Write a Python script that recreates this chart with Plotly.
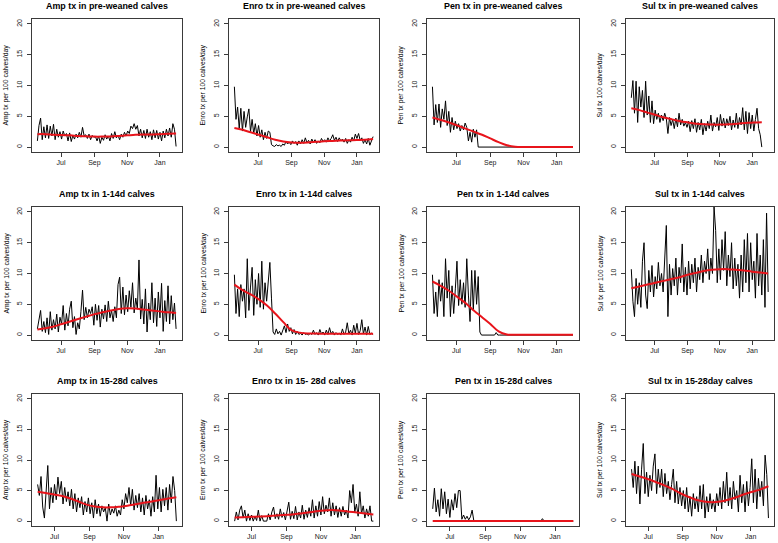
import pandas as pd
import plotly.graph_objects as go

# ---------------- data (3-day sampling) ----------------
START_ROW12 = "2016-05-18"
START_ROW3 = "2016-06-01"
STEP_DAYS = 3

tick_dates = ["2016-07-01", "2016-09-01", "2016-11-01", "2017-01-01"]
tick_labels = ["Jul", "Sep", "Nov", "Jan"]
y_ticks = [0, 5, 10, 15, 20]

amp_pre = [1.0, 3.5, 4.7, 1.2, 3.3, 1.5, 3.6, 1.4, 3.4, 1.8,
           3.7, 1.2, 2.9, 1.6, 2.5, 1.3, 2.6, 1.8, 2.2, 1.0,
           2.3, 0.9, 1.9, 1.3, 2.1, 1.5, 2.4, 1.6, 3.2, 1.8,
           2.0, 1.4, 2.1, 1.2, 1.9, 1.6, 1.7, 1.0, 1.8, 0.6,
           1.6, 1.1, 2.0, 1.3, 1.8, 1.0, 2.2, 1.4, 2.5, 1.5,
           1.9, 1.2, 2.1, 1.6, 2.4, 1.8, 2.6, 2.2, 3.4, 3.0,
           3.8, 2.9, 3.5, 1.8, 2.9, 1.5, 2.7, 1.4, 2.9, 1.6,
           2.5, 1.2, 2.8, 1.5, 2.7, 1.3, 2.4, 1.0, 2.6, 1.5,
           2.9, 1.8, 3.1, 1.6, 3.8, 2.9, 0.1]
amp_pre_fit = [2.1, 2.1, 2.0, 1.95, 1.9, 1.8, 1.75, 1.7, 1.7, 1.72,
               1.8, 1.9, 2.0, 2.05, 2.05, 2.1, 2.15, 2.2]

enro_pre = [9.8, 4.5, 6.5, 3.0, 6.3, 2.6, 5.8, 3.2, 4.9, 6.2,
            2.5, 4.5, 2.2, 3.8, 1.8, 3.5, 1.6, 2.8, 1.2, 2.4,
            1.4, 2.6, 2.4, 0.4, 0.2, 0.1, 0.4, 0.2, 0.3, 0.1,
            0.5, 0.3, 0.9, 0.5, 0.8, 0.4, 1.0, 0.6, 0.9, 0.3,
            1.0, 0.5, 1.2, 0.6, 1.5, 0.7, 1.1, 0.5, 1.3, 0.8,
            1.2, 0.6, 1.0, 0.7, 1.4, 0.9, 1.2, 0.8, 1.5, 1.0,
            1.4, 2.0, 1.1, 1.6, 0.9, 1.5, 1.0, 1.3, 0.8, 1.4,
            0.6, 1.2, 0.8, 1.6, 1.0, 2.1, 1.4, 2.2, 1.1, 1.5,
            0.6, 1.2, 0.5, 1.4, 0.3, 1.0, 1.7]
enro_pre_fit = [3.1, 2.8, 2.4, 2.0, 1.6, 1.2, 0.9, 0.75, 0.7, 0.75,
                0.85, 0.95, 1.0, 1.05, 1.1, 1.15, 1.2, 1.3]

pen_pre = [9.8, 3.6, 6.9, 4.0, 7.0, 3.2, 6.2, 4.5, 7.5, 3.5,
           5.8, 2.4, 4.8, 2.8, 4.2, 3.0, 3.8, 2.6, 3.5, 2.8,
           3.9, 3.2, 1.0, 2.4, 0.8, 2.9, 1.6, 2.8, 0.0, 0.0,
           0.0, 0.0, 0.0, 0.0, 0.0, 0.0, 0.0, 0.0, 0.0, 0.0,
           0.0, 0.0, 0.0, 0.0, 0.0, 0.0, 0.0, 0.0, 0.0, 0.0,
           0.0, 0.0, 0.0, 0.0, 0.0, 0.0, 0.0, 0.0, 0.0, 0.0,
           0.0, 0.0, 0.0, 0.0, 0.0, 0.0, 0.0, 0.0, 0.0, 0.0,
           0.0, 0.0, 0.0, 0.0, 0.0, 0.0, 0.0, 0.0, 0.0, 0.0,
           0.0, 0.0, 0.0, 0.0, 0.0, 0.0, 0.0]
pen_pre_fit = [4.8, 4.4, 4.0, 3.5, 3.0, 2.5, 2.0, 1.4, 0.8, 0.3,
               0.05, 0.0, 0.0, 0.0, 0.0, 0.0, 0.0, 0.0]

sul_pre = [8.0, 10.8, 5.5, 10.7, 4.0, 9.8, 6.5, 9.2, 4.8, 10.7,
           5.2, 8.3, 4.0, 7.5, 3.8, 6.0, 4.5, 5.5, 4.0, 5.2,
           4.3, 5.5, 4.6, 2.2, 4.8, 3.5, 4.5, 3.0, 4.7, 3.3,
           5.5, 3.6, 4.5, 3.4, 4.0, 3.2, 4.2, 2.5, 4.3, 3.0,
           4.6, 2.4, 4.0, 2.8, 4.5, 2.0, 3.8, 2.6, 4.2, 3.0,
           5.2, 2.6, 4.0, 3.3, 4.8, 2.7, 5.3, 3.4, 4.7, 3.1,
           4.6, 3.5, 5.0, 2.8, 4.4, 3.2, 5.5, 3.0, 4.8, 3.6,
           6.4, 2.8, 5.8, 2.2, 5.6, 3.0, 5.2, 2.6, 4.5, 6.3,
           3.0, 2.0, 0.0]
sul_pre_fit = [6.3, 6.0, 5.6, 5.2, 4.8, 4.5, 4.2, 4.0, 3.8, 3.7,
               3.65, 3.65, 3.7, 3.8, 3.9, 4.0, 4.05]

amp_114 = [1.0, 2.5, 4.0, 0.6, 2.2, 0.4, 2.8, 0.1, 3.8, 0.8,
           2.5, 1.0, 3.4, 0.5, 2.9, 1.8, 4.8, 0.8, 3.5, 1.5,
           4.2, 5.5, 1.2, 3.0, 0.1, 2.0, 1.0, 3.8, 7.3, 2.5,
           4.5, 2.8, 4.2, 3.5, 4.6, 1.6, 5.0, 2.4, 4.8, 1.3,
           4.2, 2.6, 4.9, 2.2, 5.5, 2.8, 4.0, 2.2, 4.6, 2.8,
           8.2, 9.4, 3.5, 7.8, 3.3, 6.5, 3.8, 7.2, 4.5, 8.5,
           3.6, 6.0, 4.2, 12.2, 2.6, 5.8, 1.8, 7.5, 0.5, 5.2,
           2.5, 8.5, 2.0, 6.0, 1.4, 7.0, 2.8, 8.4, 0.6, 5.6,
           2.2, 8.0, 1.8, 6.4, 2.5, 5.2, 1.0]
amp_114_fit = [0.9, 1.1, 1.4, 1.8, 2.2, 2.6, 3.0, 3.4, 3.7, 4.0,
               4.25, 4.35, 4.3, 4.15, 4.0, 3.85, 3.7, 3.6]

enro_114 = [9.8, 3.5, 7.5, 3.0, 8.2, 5.5, 7.5, 2.8, 12.4, 4.0,
            7.8, 11.0, 3.2, 9.0, 5.0, 10.0, 4.5, 12.0, 4.2, 8.5,
            5.5, 9.5, 11.8, 6.0, 0.5, 0.1, 1.0, 0.2, 0.6, 0.0,
            0.8, 1.5, 0.4, 1.8, 0.6, 1.2, 0.2, 0.9, 0.1, 0.6,
            0.1, 0.3, 0.0, 0.4, 0.1, 0.2, 0.0, 0.3, 0.1, 0.8,
            0.1, 0.4, 0.0, 0.9, 0.2, 0.5, 0.0, 0.8, 0.1, 1.2,
            0.2, 0.6, 0.0, 0.4, 0.1, 0.3, 0.0, 1.0, 0.1, 0.5,
            2.0, 0.2, 0.8, 0.0, 1.6, 0.3, 1.9, 0.1, 0.7, 2.5,
            0.2, 1.3, 0.0, 1.4, 0.1, 0.3, 0.1]
enro_114_fit = [8.2, 7.3, 6.6, 5.8, 4.8, 3.5, 2.1, 0.8, 0.4, 0.25,
                0.25, 0.2, 0.2, 0.2, 0.2, 0.2, 0.2, 0.2]

pen_114 = [9.8, 3.5, 7.0, 3.0, 9.0, 5.5, 8.5, 3.0, 12.4, 6.0,
           10.5, 3.0, 8.0, 3.5, 7.5, 12.0, 4.8, 9.0, 5.0, 8.5,
           4.5, 12.4, 6.5, 2.2, 10.5, 4.0, 10.5, 5.0, 9.5, 0.5,
           0.0, 0.0, 0.0, 0.0, 0.0, 0.0, 0.0, 0.0, 0.0, 0.4,
           0.0, 0.0, 0.0, 0.0, 0.0, 0.0, 0.0, 0.0, 0.0, 0.0,
           0.0, 0.0, 0.0, 0.0, 0.0, 0.0, 0.0, 0.0, 0.0, 0.0,
           0.0, 0.0, 0.0, 0.0, 0.0, 0.0, 0.0, 0.0, 0.0, 0.0,
           0.0, 0.0, 0.0, 0.0, 0.0, 0.0, 0.0, 0.0, 0.0, 0.0,
           0.0, 0.0, 0.0, 0.0, 0.0, 0.0, 0.0]
pen_114_fit = [8.7, 8.0, 7.2, 6.2, 5.2, 4.0, 2.9, 1.8, 0.6, 0.1,
               0.05, 0.05, 0.05, 0.05, 0.05, 0.05, 0.05, 0.05]

sul_114 = [10.7, 5.5, 3.0, 9.2, 5.0, 8.5, 4.5, 12.0, 15.0, 6.5,
           4.3, 10.5, 7.0, 11.3, 6.2, 9.5, 7.5, 11.8, 8.0, 10.0,
           7.0, 12.0, 17.8, 3.0, 11.5, 6.5, 10.8, 8.0, 12.5, 6.5,
           11.0, 8.5, 14.8, 7.0, 11.0, 6.5, 12.0, 7.5, 11.5, 8.5,
           12.5, 7.0, 11.0, 9.0, 13.0, 8.5, 12.0, 10.0, 14.0, 9.0,
           12.5, 10.0, 20.8, 17.0, 8.5, 14.0, 9.0, 15.5, 10.5, 16.8,
           8.0, 13.0, 9.5, 15.0, 7.5, 12.5, 8.0, 11.5, 6.0, 13.0,
           7.0, 15.5, 8.5, 16.5, 7.0, 15.0, 9.0, 12.0, 6.0, 16.5,
           8.0, 13.0, 6.5, 15.5, 4.5, 19.8, 7.0]
sul_114_fit = [7.6, 7.9, 8.2, 8.5, 8.8, 9.1, 9.4, 9.8, 10.1, 10.4,
               10.6, 10.7, 10.7, 10.6, 10.5, 10.3, 10.15, 10.0]

amp_1528 = [6.0, 4.2, 7.3, 2.3, 0.5, 5.5, 9.1, 2.0, 5.5, 3.0,
            6.0, 3.5, 7.2, 4.5, 6.5, 2.8, 5.5, 3.2, 4.8, 2.5,
            5.2, 2.0, 4.5, 1.5, 3.8, 2.2, 4.0, 1.0, 3.2, 1.5,
            3.8, 1.2, 3.0, 0.5, 3.5, 1.2, 2.8, 0.8, 2.5, 1.5,
            2.2, 0.0, 2.8, 1.0, 2.0, 1.3, 2.5, 0.8, 1.8, 1.0,
            3.5, 2.0, 4.5, 3.0, 5.5, 2.5, 5.2, 1.8, 4.2, 2.2,
            4.5, 1.5, 3.8, 1.0, 4.2, 2.0, 3.5, 0.8, 4.0, 1.5,
            7.5, 2.0, 5.5, 1.5, 5.2, 2.5, 5.5, 1.8, 6.0, 3.0,
            7.3, 5.0, 0.0]
amp_1528_fit = [4.8, 4.6, 4.35, 4.1, 3.7, 3.2, 2.7, 2.4, 2.25, 2.25,
                2.35, 2.5, 2.75, 3.0, 3.2, 3.45, 3.7, 3.9]

enro_1528 = [0.0, 1.5, 0.2, 1.8, 2.5, 0.5, 1.8, 0.0, 1.2, 0.1,
             1.0, 0.0, 0.8, 0.1, 1.8, 0.0, 0.9, 0.0, 0.0, 0.0,
             1.2, 0.2, 1.5, 2.3, 0.4, 1.2, 0.3, 2.0, 0.6, 1.4,
             0.2, 1.8, 3.1, 0.3, 1.6, 0.4, 2.4, 0.2, 1.5, 0.5,
             2.6, 0.3, 1.8, 0.6, 2.2, 0.8, 3.5, 0.5, 2.5, 0.8,
             3.2, 1.0, 4.0, 1.2, 2.6, 1.5, 3.8, 0.8, 3.0, 1.0,
             2.5, 0.6, 2.2, 0.8, 2.4, 1.0, 1.8, 0.5, 5.0, 3.0,
             6.0, 1.5, 2.8, 0.8, 4.8, 1.2, 2.5, 0.5, 2.0, 0.8,
             2.5, 0.0, 0.0]
enro_1528_fit = [0.6, 0.65, 0.7, 0.75, 0.8, 0.9, 1.0, 1.1, 1.25, 1.4,
                 1.6, 1.75, 1.8, 1.7, 1.55, 1.4, 1.25, 1.1]

pen_1528 = [2.0, 5.4, 1.5, 3.5, 0.8, 5.3, 2.0, 4.8, 1.2, 3.6,
            0.6, 3.5, 1.8, 4.5, 2.2, 5.0, 5.0, 0.3, 1.0, 0.3,
            0.8, 0.2, 0.7, 1.8, 0.0, 0.0, 0.0, 0.0, 0.0, 0.0,
            0.0, 0.0, 0.0, 0.0, 0.0, 0.0, 0.0, 0.0, 0.0, 0.0,
            0.0, 0.0, 0.0, 0.0, 0.0, 0.0, 0.0, 0.0, 0.0, 0.0,
            0.0, 0.0, 0.0, 0.0, 0.0, 0.0, 0.0, 0.0, 0.0, 0.0,
            0.0, 0.0, 0.0, 0.0, 0.4, 0.0, 0.0, 0.0, 0.0, 0.0,
            0.0, 0.0, 0.0, 0.0, 0.0, 0.0, 0.0, 0.0, 0.0, 0.0,
            0.0, 0.0, 0.0]
pen_1528_fit = [0.0, 0.0]

sul_1528 = [8.5, 5.5, 9.8, 4.5, 9.0, 2.8, 8.5, 12.7, 4.5, 8.0,
            4.0, 7.5, 5.0, 9.0, 11.0, 4.5, 8.5, 5.5, 8.5, 4.0,
            7.8, 4.5, 6.5, 3.5, 6.0, 8.5, 3.0, 6.5, 2.8, 5.5,
            2.5, 5.0, 2.0, 5.5, 1.5, 4.0, 0.8, 4.5, 2.0, 4.0,
            1.5, 5.8, 2.0, 6.0, 0.5, 4.0, 1.5, 4.5, 2.0, 3.5,
            1.5, 4.5, 2.5, 5.5, 2.0, 6.5, 3.0, 8.0, 2.5, 5.5,
            2.0, 6.5, 3.5, 5.0, 1.5, 7.5, 3.0, 6.0, 1.5, 6.5,
            2.5, 5.5, 10.2, 3.0, 8.5, 2.0, 7.0, 4.0, 6.5, 2.5,
            10.8, 7.6, 0.5]
sul_1528_fit = [7.7, 7.3, 6.9, 6.4, 5.9, 5.3, 4.6, 4.0, 3.5, 3.2,
                3.1, 3.2, 3.5, 3.9, 4.4, 4.8, 5.2, 5.7]

titles = ["Amp tx in pre-weaned calves", "Enro tx in pre-weaned calves",
          "Pen tx in pre-weaned calves", "Sul tx in pre-weaned calves",
          "Amp tx in 1-14d calves", "Enro tx in 1-14d calves",
          "Pen tx in 1-14d calves", "Sul tx in 1-14d calves",
          "Amp tx in 15-28d calves", "Enro tx in 15- 28d calves",
          "Pen tx in 15-28d calves", "Sul tx in 15-28day calves"]
ytitles = ["Amp tx per 100 calves/day", "Enro tx per 100 calves/day",
           "Pen tx per 100 calves/day", "Sul tx 100 calves/day",
           "Amp tx per 100 calves/day", "Enro tx per 100 calves/day",
           "Pen tx per 100 calves/day", "Sul tx per 100 calves/day",
           "Amp tx per 100 calves/day", "Enro tx per 100 calves/day",
           "Pen tx per 100 calves/day", "Sul tx per 100 calves/day"]
raw_series = [amp_pre, enro_pre, pen_pre, sul_pre,
              amp_114, enro_114, pen_114, sul_114,
              amp_1528, enro_1528, pen_1528, sul_1528]
fit_series = [amp_pre_fit, enro_pre_fit, pen_pre_fit, sul_pre_fit,
              amp_114_fit, enro_114_fit, pen_114_fit, sul_114_fit,
              amp_1528_fit, enro_1528_fit, pen_1528_fit, sul_1528_fit]
row_starts = [START_ROW12, START_ROW12, START_ROW3]
row_xrange = [["2016-05-08", "2017-02-11"], ["2016-05-08", "2017-02-11"],
              ["2016-05-22", "2017-02-12"]]

# ---------------- layout geometry (pixels) ----------------
W, H = 778, 543
col_px = [(32, 182), (229, 379), (427, 579), (626, 774)]
row_px = [(19, 152), (207, 340), (394, 526)]

FONT = "Liberation Sans, Arial, sans-serif"
fig = go.Figure()
annotations = []
layout_axes = {}

for i in range(12):
    r, c = divmod(i, 4)
    raw = raw_series[i]
    fit = fit_series[i]
    dates = pd.date_range(row_starts[r], periods=len(raw), freq=f"{STEP_DAYS}D")
    fdates = pd.date_range(dates[0], dates[-1], periods=len(fit))
    xs = "x" if i == 0 else f"x{i+1}"
    ys = "y" if i == 0 else f"y{i+1}"
    fig.add_trace(go.Scatter(x=dates, y=raw, mode="lines", xaxis=xs, yaxis=ys,
                             line=dict(color="black", width=1.0), hoverinfo="skip"))
    fig.add_trace(go.Scatter(x=fdates, y=fit, mode="lines", xaxis=xs, yaxis=ys,
                             line=dict(color="#E8141B", width=2.0, shape="spline"),
                             hoverinfo="skip"))
    x0, x1 = col_px[c]
    y0, y1 = row_px[r]
    common = dict(showline=True, linecolor="#3a3a3a", linewidth=1, mirror=True,
                  ticks="outside", ticklen=4, tickcolor="#3a3a3a", tickwidth=1,
                  showgrid=False, zeroline=False,
                  tickfont=dict(family=FONT, size=7, color="#222"))
    layout_axes["xaxis" if i == 0 else f"xaxis{i+1}"] = dict(
        domain=[x0 / W, x1 / W], anchor=ys, type="date",
        range=row_xrange[r], tickvals=tick_dates, ticktext=tick_labels,
        **common)
    layout_axes["yaxis" if i == 0 else f"yaxis{i+1}"] = dict(
        domain=[1 - y1 / H, 1 - y0 / H], anchor=xs, range=[-0.8, 20.8],
        tickvals=y_ticks, tickangle=-90, ticklabelstandoff=2, **common)
    annotations.append(dict(text=f"<b>{titles[i]}</b>", xref="paper", yref="paper",
                            x=(x0 + x1) / 2 / W, y=1 - (y0 - 13) / H,
                            xanchor="center", yanchor="middle", showarrow=False,
                            font=dict(family=FONT, size=8.9, color="black")))
    annotations.append(dict(text=ytitles[i], xref="paper", yref="paper",
                            x=(x0 - 26) / W, y=1 - (y0 + y1) / 2 / H,
                            xanchor="center", yanchor="middle", textangle=-90,
                            showarrow=False,
                            font=dict(family=FONT, size=6.8, color="black")))

fig.update_layout(width=W, height=H, margin=dict(l=0, r=0, t=0, b=0),
                  paper_bgcolor="white", plot_bgcolor="white", showlegend=False,
                  annotations=annotations, **layout_axes)
fig.write_html("out.html", config={"displayModeBar": False},
               post_script="document.body.style.margin='0';"
                           "document.body.style.overflow='hidden';")
